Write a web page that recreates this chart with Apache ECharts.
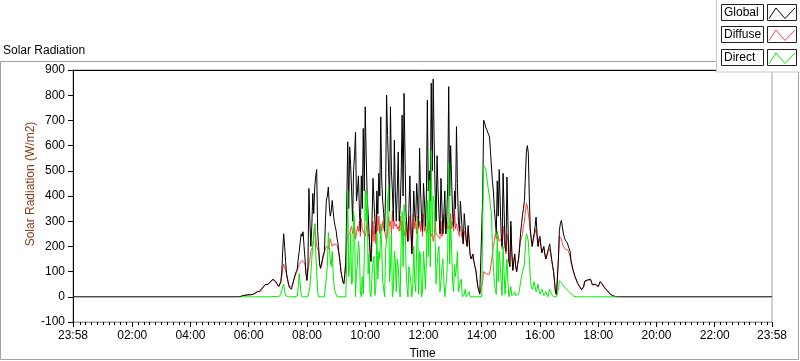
<!DOCTYPE html>
<html><head><meta charset="utf-8">
<script src="https://cdn.jsdelivr.net/npm/echarts@6/dist/echarts.min.js"></script>
<style>html,body{margin:0;padding:0;background:#fff}#c{width:800px;height:361px}</style>
</head><body><div id="c"></div>
<script>
// ---- data ----
const seriesNames = ['Global', 'Diffuse', 'Direct'];
const chartTitle = 'Solar Radiation';
const yAxisTitle = 'Solar Radiation (W/m2)';
const xAxisTitle = 'Time';
// x axis in minutes after midnight; range 23:58 (prev day) .. 23:58
const xMinMinute = -2, xMaxMinute = 1438;
const xTickMinutes = [-2, 120, 240, 360, 480, 600, 720, 840, 960, 1080, 1200, 1320, 1438];
const xTickLabels = ['23:58', '02:00', '04:00', '06:00', '08:00', '10:00', '12:00', '14:00', '16:00', '18:00', '20:00', '22:00', '23:58'];
const yTickLabels = ['-100', '0', '100', '200', '300', '400', '500', '600', '700', '800', '900'];
// daytime samples: start 05:44; "Day" arrays at every 4 minutes, "Mid" arrays 2 minutes after each of them
const dayStartMin = 344, dayStepMin = 4;
const globalNight = [[-2, 0], [340, 0], [1124, 0], [1438, 0]];
const globalDay = [
  2,4,6,7,8,8,10,10,18,25,
  20,35,42,52,50,58,65,75,60,45,
  40,95,250,140,70,38,30,62,90,110,
  180,250,258,150,65,430,200,410,436,505,
  200,115,150,180,383,435,320,382,300,263,
  210,140,80,52,140,615,595,420,500,654,
  420,340,480,668,754,400,250,140,470,300,
  420,490,714,380,260,800,520,754,420,621,
  300,575,350,721,807,330,220,480,171,420,
  300,380,590,320,450,280,781,500,848,864,
  420,560,330,470,250,420,320,834,600,330,
  420,675,300,380,260,330,230,283,170,160,
  140,104,40,12,15,701,674,661,634,515,
  420,300,460,505,250,490,200,475,140,300,
  105,170,100,150,250,325,382,575,570,270,
  200,250,316,200,240,175,200,150,180,210,
  150,100,17,5,263,303,253,225,215,210,
  145,108,82,62,45,35,22,62,65,69,
  70,48,55,45,41,61,52,40,30,22,
  12,5,3,1,0
];
const globalMid = [
  3,5,6,8,8,9,10,14,22,22,
  28,38,48,50,55,62,70,68,52,42,
  60,180,200,90,50,32,45,75,100,150,
  215,240,200,90,120,300,280,330,480,260,
  130,120,170,300,400,360,340,340,280,230,
  170,100,60,90,380,350,520,300,560,380,
  480,260,350,420,560,330,180,300,380,250,
  330,400,460,330,420,640,340,500,300,420,
  420,300,480,400,560,280,350,300,280,330,
  450,280,420,260,380,400,420,380,500,620,
  300,420,250,360,330,250,450,400,460,280,
  350,450,260,320,210,280,200,230,150,170,
  120,70,25,10,400,690,665,645,580,460,
  350,250,320,380,200,350,180,300,120,180,
  140,120,130,200,290,350,480,600,400,230,
  230,280,250,230,200,190,170,165,195,180,
  125,60,8,150,290,280,238,220,212,180,
  125,95,72,52,40,28,40,64,67,70,
  60,50,50,43,50,58,46,35,26,17,
  8,4,2,0
];
const diffuseDay = [
  2,4,6,7,8,8,10,10,18,25,
  20,35,42,52,50,58,65,72,58,44,
  38,80,130,130,68,36,30,60,85,105,
  127,140,150,130,65,130,180,200,290,200,
  180,110,145,175,200,190,230,200,210,210,
  200,140,80,52,140,240,250,280,260,230,
  280,300,310,270,240,300,250,140,300,280,
  360,320,280,300,260,220,320,300,340,300,
  290,280,320,300,260,300,220,320,171,330,
  300,320,300,310,330,280,260,300,240,220,
  300,250,240,300,240,330,300,280,330,300,
  350,290,270,280,250,260,220,270,170,160,
  140,104,40,12,15,100,95,85,90,140,
  200,250,260,220,230,280,200,250,140,280,
  105,170,100,150,220,250,300,370,360,260,
  200,240,270,200,230,175,195,150,175,190,
  145,100,17,5,240,230,200,190,188,180,
  135,105,80,60,45,35,22,58,63,66,
  68,47,53,44,40,58,50,38,28,21,
  11,5,3,1,0
];
const diffuseMid = [
  3,5,6,8,8,9,10,14,22,22,
  28,38,48,50,55,62,68,66,50,40,
  55,110,130,90,50,32,45,72,95,115,
  135,145,140,95,100,150,190,240,240,190,
  130,120,160,190,195,210,215,205,210,205,
  170,100,60,90,230,240,270,250,280,250,
  260,240,270,270,260,240,170,210,220,210,
  260,250,260,270,240,260,280,250,270,280,
  270,260,260,280,240,240,230,240,230,270,
  250,270,260,240,260,250,260,260,250,240,
  250,240,230,240,270,250,270,270,270,260,
  270,270,240,250,210,250,200,210,150,165,
  120,70,25,10,60,98,90,88,110,170,
  220,230,240,220,190,240,170,220,120,170,
  140,120,130,190,235,280,340,360,300,230,
  220,255,235,215,200,185,170,160,180,170,
  120,60,8,150,235,215,195,189,184,160,
  120,92,70,52,40,28,40,60,65,67,
  58,50,48,42,49,54,44,33,25,16,
  8,4,2,0
];
const directDay = [
  0,0,0,0,0,0,0,0,0,0,
  0,0,0,0,0,0,0,2,1,0,
  0,24,50,5,0,0,0,0,0,3,
  93,10,0,0,0,0,93,207,289,100,
  0,0,0,0,0,255,147,180,40,10,
  0,0,0,0,0,422,120,50,340,0,
  130,180,0,10,422,410,170,0,130,5,
  255,180,290,60,0,230,445,120,0,180,
  20,120,0,338,365,120,0,90,0,200,
  20,310,180,0,180,30,382,462,581,400,
  230,120,200,60,150,0,80,530,300,60,
  127,120,20,60,0,10,0,0,0,0,
  0,0,0,0,0,520,510,450,400,330,
  120,30,260,180,60,200,10,150,0,40,
  0,20,0,10,60,100,130,250,220,80,
  30,60,20,50,10,30,5,20,0,30,
  10,0,0,0,64,60,45,35,30,20,
  12,5,0,0,0,0,0,0,0,0,
  0,0,0,0,0,0,0,0,0,0,
  0,0,0,0,0
];
const directMid = [
  0,0,0,0,0,0,0,0,0,0,
  0,0,0,0,0,0,1,1,0,0,
  10,40,20,0,0,0,0,0,0,40,
  50,0,0,0,0,40,150,250,180,20,
  0,0,0,0,120,200,120,90,20,0,
  0,0,0,0,150,80,250,60,300,100,
  220,20,80,150,300,90,10,90,160,40,
  70,150,200,60,180,380,60,250,30,140,
  150,40,220,120,320,40,120,60,50,60,
  200,10,160,20,120,150,160,120,250,380,
  50,180,20,120,60,0,180,130,190,20,
  80,180,20,70,0,30,0,20,0,0,
  0,0,0,0,300,515,480,420,360,200,
  60,10,60,130,5,100,5,60,0,5,
  10,5,5,30,80,110,200,240,150,40,
  40,40,30,25,20,15,10,10,15,20,
  5,0,0,30,62,52,40,32,25,15,
  8,2,0,0,0,0,0,0,0,0,
  0,0,0,0,0,0,0,0,0,0,
  0,0,0,0
];
const seriesColors = ['#000000', '#ff4040', '#00ee00'];

// ---- build ----
function merge(day, mid) {
  const out = [];
  day.forEach((v, i) => {
    const t = dayStartMin + i * dayStepMin;
    out.push([t, v]);
    if (i < mid.length) out.push([t + dayStepMin / 2, mid[i]]);
  });
  return out;
}
const globalData = [globalNight[0], globalNight[1]].concat(merge(globalDay, globalMid), [globalNight[2], globalNight[3]]);
const diffuseData = merge(diffuseDay, diffuseMid);
const directData = merge(directDay, directMid);
const minorTicks = [];
for (let m = 12; m < 1438; m += 12) minorTicks.push(m);

const FONT = 'Liberation Sans';
const chart = echarts.init(document.getElementById('c'), null, {renderer: 'canvas'});

function legendItem(i, y) {
  return [
    {type: 'rect', shape: {x: 721.5, y: y + 0.5, width: 42, height: 16}, style: {fill: '#fff', stroke: '#202020', lineWidth: 1}},
    {type: 'text', x: 724, y: y + 9, style: {text: seriesNames[i], font: '12px ' + FONT, fill: '#000', verticalAlign: 'middle'}},
    {type: 'rect', shape: {x: 767.5, y: y + 0.5, width: 29, height: 16}, style: {fill: '#fff', stroke: '#202020', lineWidth: 1}},
    {type: 'polyline', shape: {points: [[769, y + 14.5], [776, y + 4], [785, y + 14.5], [795, y + 4]]}, style: {stroke: seriesColors[i], lineWidth: 1, fill: null}}
  ];
}

const option = {
  animation: false,
  backgroundColor: '#fff',
  textStyle: {fontFamily: FONT},
  title: {text: chartTitle, left: 3, top: 45, textStyle: {fontSize: 12, fontWeight: 'normal', color: '#000', fontFamily: FONT}, padding: 0},
  grid: {left: 73, right: 28, top: 70, bottom: 39, outerBoundsMode: 'none', containLabel: false,
    show: true, borderColor: '#a0a0a0', borderWidth: 1, backgroundColor: '#fff'},
  xAxis: [
    {
      type: 'value', min: xMinMinute, max: xMaxMinute, position: 'bottom',
      name: xAxisTitle, nameLocation: 'middle', nameGap: 26, nameMoveOverlap: false,
      nameTextStyle: {fontSize: 12, color: '#000', fontFamily: FONT},
      axisLine: {show: true, onZero: false, lineStyle: {color: '#a0a0a0'}},
      axisTick: {show: true, inside: false, length: 5, customValues: xTickMinutes, lineStyle: {color: '#000'}},
      axisLabel: {show: true, margin: 8, fontSize: 12, color: '#000', fontFamily: FONT, customValues: xTickMinutes,
        formatter: v => { const k = xTickMinutes.indexOf(v); return k >= 0 ? xTickLabels[k] : ''; }},
      splitLine: {show: false}
    },
    {
      type: 'value', min: xMinMinute, max: xMaxMinute, position: 'bottom',
      axisLine: {show: false, onZero: false},
      axisTick: {show: true, inside: false, length: 3, customValues: minorTicks, lineStyle: {color: '#000'}},
      axisLabel: {show: false}, splitLine: {show: false}
    },
    {
      type: 'value', min: xMinMinute, max: xMaxMinute, position: 'top',
      axisLine: {show: true, onZero: false, lineStyle: {color: '#000'}},
      axisTick: {show: false}, axisLabel: {show: false}, splitLine: {show: false}
    }
  ],
  yAxis: {
    type: 'value', min: -100, max: 900, interval: 100,
    name: yAxisTitle, nameLocation: 'middle', nameGap: 36, nameMoveOverlap: false,
    nameTextStyle: {fontSize: 12, color: '#8b3a1a', fontFamily: FONT, padding: [0, 0, 0, 24]},
    axisLine: {show: true, onZero: false, lineStyle: {color: '#000'}},
    axisTick: {show: true, inside: false, length: 5, lineStyle: {color: '#000'}},
    axisLabel: {margin: 8, fontSize: 12, color: '#000', fontFamily: FONT,
      formatter: v => yTickLabels[Math.round((v + 100) / 100)]},
    splitLine: {show: false}
  },
  series: [
    {name: seriesNames[1], type: 'line', data: diffuseData, showSymbol: false, symbol: 'none', z: 2,
      lineStyle: {color: seriesColors[1], width: 1}, itemStyle: {color: seriesColors[1]}},
    {name: seriesNames[0], type: 'line', data: globalData, showSymbol: false, symbol: 'none', z: 3,
      lineStyle: {color: seriesColors[0], width: 1}, itemStyle: {color: seriesColors[0]}},
    {name: seriesNames[2], type: 'line', data: directData, showSymbol: false, symbol: 'none', z: 4,
      lineStyle: {color: seriesColors[2], width: 1}, itemStyle: {color: seriesColors[2]}}
  ],
  graphic: [
    {type: 'rect', z: -10, silent: true, shape: {x: 0.5, y: 61.5, width: 798, height: 298}, style: {fill: null, stroke: '#a0a0a0', lineWidth: 1}},
    {type: 'rect', silent: true, shape: {x: 716.5, y: -1, width: 90, height: 73}, style: {fill: '#fff', stroke: '#c8c8c8', lineWidth: 1}},
    ...legendItem(0, 4), ...legendItem(1, 26), ...legendItem(2, 49)
  ].map(g => Object.assign({z: 10}, g))
};
chart.setOption(option);
</script>
</body></html>
